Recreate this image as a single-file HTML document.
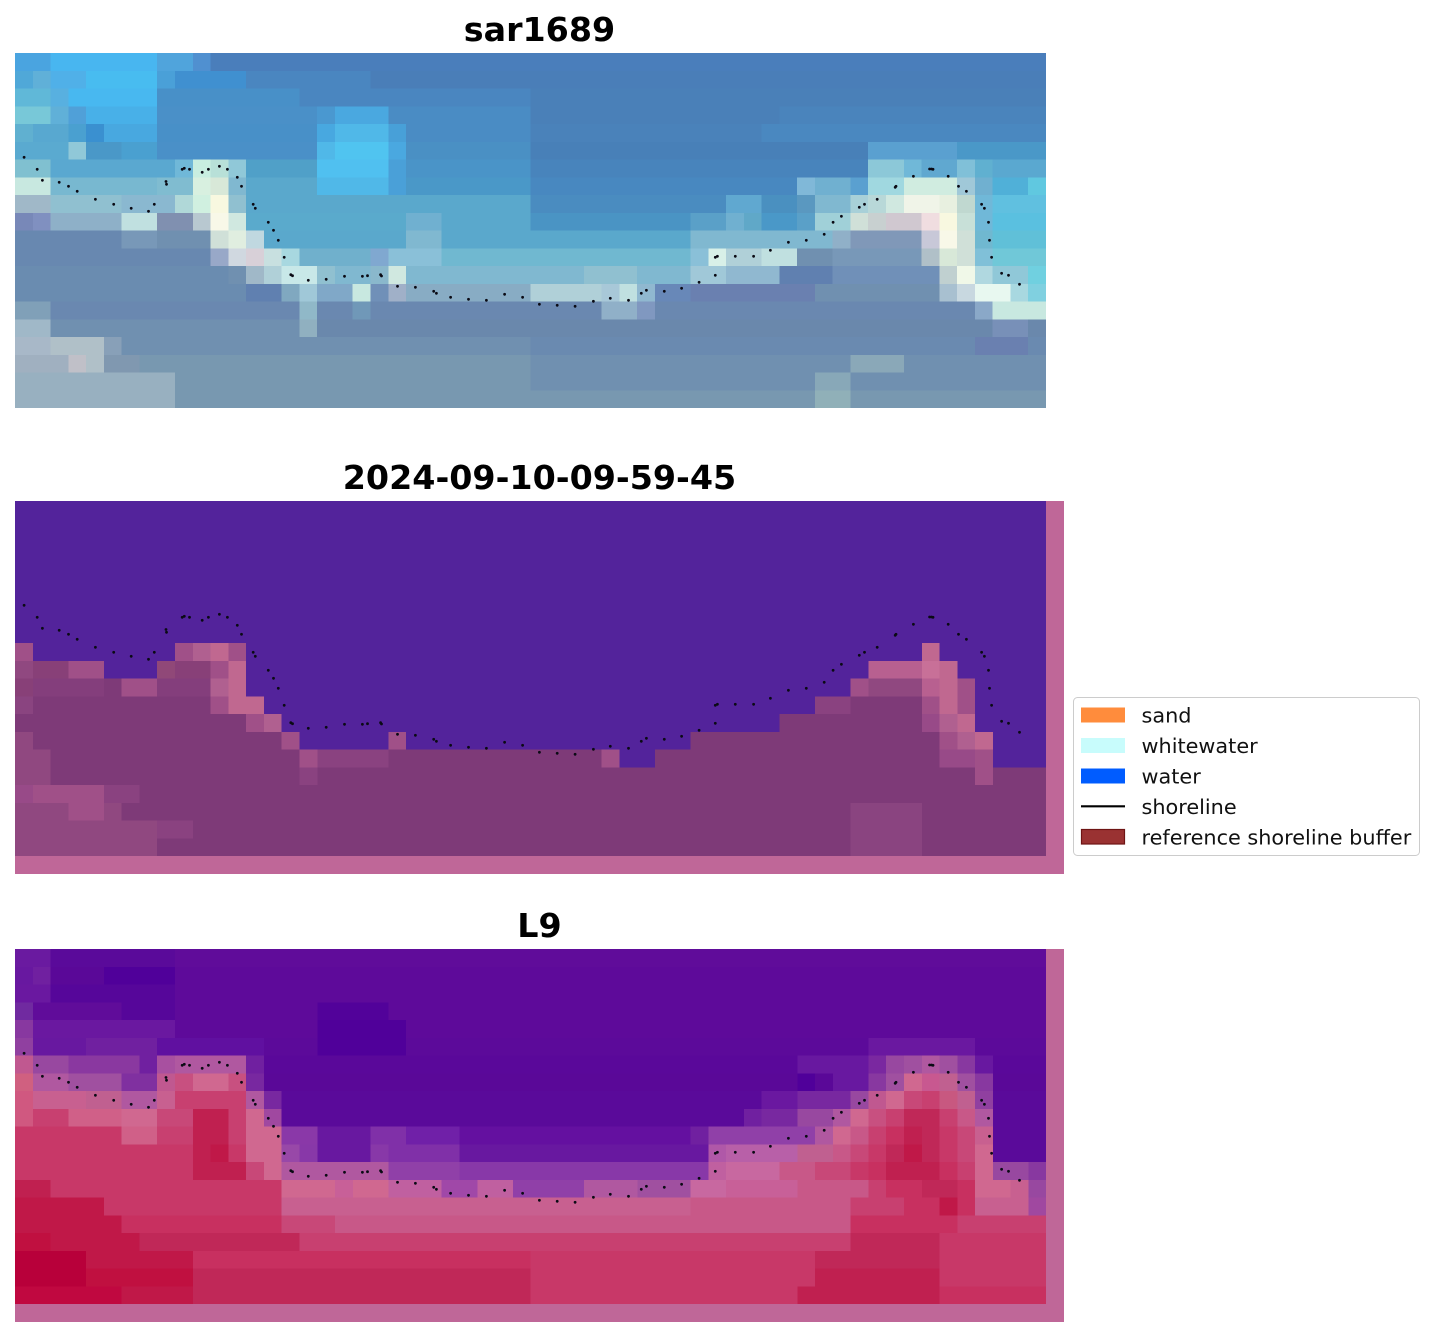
<!DOCTYPE html>
<html>
<head>
<meta charset="utf-8">
<style>
html,body{margin:0;padding:0;background:#fff;}
body{width:1435px;height:1337px;position:relative;overflow:hidden;}
svg.p{position:absolute;}
svg.o{position:absolute;left:0;top:0;}
</style>
</head>
<body>

<!-- Panel 1: sar1689 -->
<svg class="p" style="left:15px;top:53px" width="1031" height="355" viewBox="0 0 58 20" preserveAspectRatio="none" shape-rendering="crispEdges">
<g transform="translate(0,0)">
<rect x="0" y="0" width="58" height="1" fill="#4a7ebb"/><rect x="0" y="0" width="2" height="1" fill="#4aa4e0"/><rect x="2" y="0" width="6" height="1" fill="#48b6f0"/><rect x="8" y="0" width="2" height="1" fill="#50a4dc"/><rect x="10" y="0" width="1" height="1" fill="#5090d0"/>
</g>
<g transform="translate(0,1)">
<rect x="0" y="0" width="58" height="1" fill="#4a7eb8"/><rect x="0" y="0" width="1" height="1" fill="#50a8d8"/><rect x="1" y="0" width="1" height="1" fill="#60b0d8"/><rect x="2" y="0" width="2" height="1" fill="#50b0e8"/><rect x="4" y="0" width="4" height="1" fill="#48bcf0"/><rect x="8" y="0" width="1" height="1" fill="#4aa0d8"/><rect x="9" y="0" width="4" height="1" fill="#4090d0"/><rect x="13" y="0" width="7" height="1" fill="#4a86c0"/>
</g>
<g transform="translate(0,2)">
<rect x="0" y="0" width="58" height="1" fill="#4a80b8"/><rect x="0" y="0" width="2" height="1" fill="#60b8d8"/><rect x="2" y="0" width="1" height="1" fill="#58b0e0"/><rect x="3" y="0" width="5" height="1" fill="#48b8f0"/><rect x="8" y="0" width="8" height="1" fill="#4890c8"/><rect x="16" y="0" width="13" height="1" fill="#4a86c0"/>
</g>
<g transform="translate(0,3)">
<rect x="0" y="0" width="58" height="1" fill="#4a80b8"/><rect x="0" y="0" width="2" height="1" fill="#78c8d8"/><rect x="2" y="0" width="1" height="1" fill="#60b0d8"/><rect x="3" y="0" width="1" height="1" fill="#50a0d8"/><rect x="4" y="0" width="4" height="1" fill="#48b0e8"/><rect x="8" y="0" width="9" height="1" fill="#4a90c8"/><rect x="17" y="0" width="1" height="1" fill="#4a98d0"/><rect x="18" y="0" width="3" height="1" fill="#4aa8e0"/><rect x="21" y="0" width="8" height="1" fill="#4a8cc4"/><rect x="43" y="0" width="15" height="1" fill="#4a84bc"/>
</g>
<g transform="translate(0,4)">
<rect x="0" y="0" width="58" height="1" fill="#4a82ba"/><rect x="0" y="0" width="1" height="1" fill="#60b0d0"/><rect x="1" y="0" width="2" height="1" fill="#58a8d0"/><rect x="3" y="0" width="1" height="1" fill="#4aa0d0"/><rect x="4" y="0" width="1" height="1" fill="#3a90d0"/><rect x="5" y="0" width="3" height="1" fill="#48a8e0"/><rect x="8" y="0" width="9" height="1" fill="#4890c8"/><rect x="17" y="0" width="1" height="1" fill="#48a8e0"/><rect x="18" y="0" width="3" height="1" fill="#50b8e8"/><rect x="21" y="0" width="1" height="1" fill="#48a0d8"/><rect x="22" y="0" width="7" height="1" fill="#4a8cc4"/><rect x="42" y="0" width="16" height="1" fill="#4a88c0"/>
</g>
<g transform="translate(0,5)">
<rect x="0" y="0" width="58" height="1" fill="#4880b8"/><rect x="0" y="0" width="3" height="1" fill="#5aaad0"/><rect x="3" y="0" width="1" height="1" fill="#90c8d8"/><rect x="4" y="0" width="2" height="1" fill="#4a98c8"/><rect x="6" y="0" width="2" height="1" fill="#4aa0d0"/><rect x="8" y="0" width="9" height="1" fill="#4a90c8"/><rect x="17" y="0" width="1" height="1" fill="#50b8e8"/><rect x="18" y="0" width="3" height="1" fill="#50c4f0"/><rect x="21" y="0" width="1" height="1" fill="#4aa8e0"/><rect x="22" y="0" width="7" height="1" fill="#4a90c4"/><rect x="48" y="0" width="5" height="1" fill="#5aa0d0"/><rect x="53" y="0" width="5" height="1" fill="#4a98c8"/>
</g>
<g transform="translate(0,6)">
<rect x="0" y="0" width="58" height="1" fill="#4884bc"/><rect x="0" y="0" width="2" height="1" fill="#80c0d0"/><rect x="2" y="0" width="7" height="1" fill="#5aa8d0"/><rect x="9" y="0" width="1" height="1" fill="#70b8d8"/><rect x="10" y="0" width="1" height="1" fill="#c8eee0"/><rect x="11" y="0" width="1" height="1" fill="#b8e0d8"/><rect x="12" y="0" width="1" height="1" fill="#90c8d8"/><rect x="13" y="0" width="4" height="1" fill="#50a0c8"/><rect x="17" y="0" width="4" height="1" fill="#50c0f0"/><rect x="21" y="0" width="1" height="1" fill="#4aa0d8"/><rect x="22" y="0" width="7" height="1" fill="#4a94c8"/><rect x="48" y="0" width="2" height="1" fill="#8cc8d8"/><rect x="50" y="0" width="1" height="1" fill="#70b8d8"/><rect x="51" y="0" width="2" height="1" fill="#60a8d0"/><rect x="53" y="0" width="1" height="1" fill="#80c0d8"/><rect x="54" y="0" width="1" height="1" fill="#60b0d0"/><rect x="55" y="0" width="3" height="1" fill="#5aa8d0"/>
</g>
<g transform="translate(0,7)">
<rect x="0" y="0" width="58" height="1" fill="#4888c0"/><rect x="0" y="0" width="2" height="1" fill="#c8e8e0"/><rect x="2" y="0" width="6" height="1" fill="#78b8d0"/><rect x="8" y="0" width="2" height="1" fill="#80bcd0"/><rect x="10" y="0" width="1" height="1" fill="#d8f0e0"/><rect x="11" y="0" width="1" height="1" fill="#d8e8d8"/><rect x="12" y="0" width="1" height="1" fill="#80b8d0"/><rect x="13" y="0" width="4" height="1" fill="#5aa8cc"/><rect x="17" y="0" width="4" height="1" fill="#50b8e8"/><rect x="21" y="0" width="1" height="1" fill="#4aa0d8"/><rect x="22" y="0" width="7" height="1" fill="#4a98c8"/><rect x="44" y="0" width="1" height="1" fill="#80b8d8"/><rect x="45" y="0" width="2" height="1" fill="#70b0d0"/><rect x="47" y="0" width="1" height="1" fill="#5aa0d0"/><rect x="48" y="0" width="2" height="1" fill="#a0d8e0"/><rect x="50" y="0" width="3" height="1" fill="#d0ece0"/><rect x="53" y="0" width="1" height="1" fill="#a0c8d8"/><rect x="54" y="0" width="1" height="1" fill="#70b0d0"/><rect x="55" y="0" width="2" height="1" fill="#50b0d8"/><rect x="57" y="0" width="1" height="1" fill="#60c8e0"/>
</g>
<g transform="translate(0,8)">
<rect x="0" y="0" width="58" height="1" fill="#4a8cc0"/><rect x="0" y="0" width="2" height="1" fill="#a0b8c8"/><rect x="2" y="0" width="4" height="1" fill="#90c0d0"/><rect x="6" y="0" width="3" height="1" fill="#8ab8d0"/><rect x="9" y="0" width="1" height="1" fill="#b0d8d8"/><rect x="10" y="0" width="1" height="1" fill="#d0f0e0"/><rect x="11" y="0" width="1" height="1" fill="#f8f8e0"/><rect x="12" y="0" width="1" height="1" fill="#90c0d0"/><rect x="13" y="0" width="16" height="1" fill="#5aa8cc"/><rect x="40" y="0" width="2" height="1" fill="#60a8d0"/><rect x="42" y="0" width="2" height="1" fill="#4a90c0"/><rect x="44" y="0" width="1" height="1" fill="#5a98c0"/><rect x="45" y="0" width="2" height="1" fill="#80b8d0"/><rect x="47" y="0" width="1" height="1" fill="#a8d0d8"/><rect x="48" y="0" width="1" height="1" fill="#b8d8d8"/><rect x="49" y="0" width="1" height="1" fill="#d0e8e0"/><rect x="50" y="0" width="2" height="1" fill="#f0f4e8"/><rect x="52" y="0" width="1" height="1" fill="#e8f0e0"/><rect x="53" y="0" width="1" height="1" fill="#c0d8d0"/><rect x="54" y="0" width="1" height="1" fill="#70b8d8"/><rect x="55" y="0" width="3" height="1" fill="#60c0e0"/>
</g>
<g transform="translate(0,9)">
<rect x="0" y="0" width="58" height="1" fill="#4a94c4"/><rect x="0" y="0" width="1" height="1" fill="#7888b8"/><rect x="1" y="0" width="1" height="1" fill="#8090c0"/><rect x="2" y="0" width="4" height="1" fill="#8eb0c8"/><rect x="6" y="0" width="2" height="1" fill="#c0e0e0"/><rect x="8" y="0" width="2" height="1" fill="#8090b0"/><rect x="10" y="0" width="1" height="1" fill="#b8c8d0"/><rect x="11" y="0" width="1" height="1" fill="#f8f8e8"/><rect x="12" y="0" width="1" height="1" fill="#d0e8e0"/><rect x="13" y="0" width="9" height="1" fill="#5aaacc"/><rect x="22" y="0" width="2" height="1" fill="#70b0d0"/><rect x="24" y="0" width="5" height="1" fill="#5aa8cc"/><rect x="38" y="0" width="2" height="1" fill="#5aa0c8"/><rect x="40" y="0" width="1" height="1" fill="#70b0d0"/><rect x="41" y="0" width="1" height="1" fill="#60a8c8"/><rect x="42" y="0" width="2" height="1" fill="#4a98c8"/><rect x="44" y="0" width="1" height="1" fill="#5aa0c8"/><rect x="45" y="0" width="2" height="1" fill="#a0d0d8"/><rect x="47" y="0" width="1" height="1" fill="#d0e0d8"/><rect x="48" y="0" width="1" height="1" fill="#c8d0d0"/><rect x="49" y="0" width="2" height="1" fill="#d0c8d0"/><rect x="51" y="0" width="1" height="1" fill="#f0dde0"/><rect x="52" y="0" width="1" height="1" fill="#f8f8e0"/><rect x="53" y="0" width="1" height="1" fill="#c8e0d8"/><rect x="54" y="0" width="1" height="1" fill="#70b8d8"/><rect x="55" y="0" width="3" height="1" fill="#5ac0e0"/>
</g>
<g transform="translate(0,10)">
<rect x="0" y="0" width="58" height="1" fill="#5aa8cc"/><rect x="0" y="0" width="6" height="1" fill="#6888b0"/><rect x="6" y="0" width="2" height="1" fill="#7898b8"/><rect x="8" y="0" width="3" height="1" fill="#7090b0"/><rect x="11" y="0" width="1" height="1" fill="#d0e0d8"/><rect x="12" y="0" width="1" height="1" fill="#e0eee0"/><rect x="13" y="0" width="1" height="1" fill="#c0d8e0"/><rect x="22" y="0" width="2" height="1" fill="#80b8d0"/><rect x="38" y="0" width="8" height="1" fill="#80b8d0"/><rect x="46" y="0" width="1" height="1" fill="#90b0c8"/><rect x="47" y="0" width="4" height="1" fill="#8098b8"/><rect x="51" y="0" width="1" height="1" fill="#c8c8d8"/><rect x="52" y="0" width="1" height="1" fill="#f8f8e8"/><rect x="53" y="0" width="1" height="1" fill="#d0e0d8"/><rect x="54" y="0" width="1" height="1" fill="#70b8d0"/><rect x="55" y="0" width="3" height="1" fill="#60c0d8"/>
</g>
<g transform="translate(0,11)">
<rect x="0" y="0" width="58" height="1" fill="#70b8d0"/><rect x="0" y="0" width="11" height="1" fill="#6888b0"/><rect x="11" y="0" width="1" height="1" fill="#98a8c8"/><rect x="12" y="0" width="1" height="1" fill="#d0d8e0"/><rect x="13" y="0" width="1" height="1" fill="#d8d0d8"/><rect x="14" y="0" width="1" height="1" fill="#c8e0e0"/><rect x="15" y="0" width="1" height="1" fill="#a8d8e0"/><rect x="16" y="0" width="4" height="1" fill="#70b0cc"/><rect x="20" y="0" width="1" height="1" fill="#80a8d0"/><rect x="21" y="0" width="3" height="1" fill="#8ac0d8"/><rect x="38" y="0" width="1" height="1" fill="#8ac0d8"/><rect x="39" y="0" width="1" height="1" fill="#d8f0e8"/><rect x="40" y="0" width="2" height="1" fill="#b0d0d8"/><rect x="42" y="0" width="2" height="1" fill="#c0e0e0"/><rect x="44" y="0" width="2" height="1" fill="#7090b0"/><rect x="46" y="0" width="5" height="1" fill="#7898b8"/><rect x="51" y="0" width="1" height="1" fill="#b0c0c8"/><rect x="52" y="0" width="1" height="1" fill="#d8e8d8"/><rect x="53" y="0" width="1" height="1" fill="#d0e0d8"/><rect x="54" y="0" width="1" height="1" fill="#80c0d8"/><rect x="55" y="0" width="3" height="1" fill="#70c8d8"/>
</g>
<g transform="translate(0,12)">
<rect x="0" y="0" width="58" height="1" fill="#80b8d0"/><rect x="0" y="0" width="12" height="1" fill="#6a8cb0"/><rect x="12" y="0" width="1" height="1" fill="#7090b0"/><rect x="13" y="0" width="1" height="1" fill="#a0b8c8"/><rect x="14" y="0" width="1" height="1" fill="#b0d0d8"/><rect x="15" y="0" width="2" height="1" fill="#c8e8e8"/><rect x="17" y="0" width="1" height="1" fill="#90c0d0"/><rect x="20" y="0" width="1" height="1" fill="#8ab8cc"/><rect x="21" y="0" width="1" height="1" fill="#d0e8e0"/><rect x="32" y="0" width="3" height="1" fill="#90c0d0"/><rect x="38" y="0" width="2" height="1" fill="#a0c8d8"/><rect x="40" y="0" width="3" height="1" fill="#90b8d0"/><rect x="43" y="0" width="3" height="1" fill="#6080b0"/><rect x="46" y="0" width="6" height="1" fill="#7090b8"/><rect x="52" y="0" width="1" height="1" fill="#c0d0d0"/><rect x="53" y="0" width="1" height="1" fill="#f0f8e8"/><rect x="54" y="0" width="1" height="1" fill="#b0d8e0"/><rect x="55" y="0" width="2" height="1" fill="#90c8d8"/><rect x="57" y="0" width="1" height="1" fill="#70d0e0"/>
</g>
<g transform="translate(0,13)">
<rect x="0" y="0" width="58" height="1" fill="#7090b0"/><rect x="0" y="0" width="13" height="1" fill="#6a8cb0"/><rect x="13" y="0" width="2" height="1" fill="#6080b0"/><rect x="15" y="0" width="1" height="1" fill="#80a8c0"/><rect x="16" y="0" width="1" height="1" fill="#a0c8d8"/><rect x="17" y="0" width="2" height="1" fill="#80a8c8"/><rect x="19" y="0" width="1" height="1" fill="#c8e8e0"/><rect x="20" y="0" width="1" height="1" fill="#7090b8"/><rect x="21" y="0" width="1" height="1" fill="#a0b0c8"/><rect x="22" y="0" width="7" height="1" fill="#88acc4"/><rect x="29" y="0" width="4" height="1" fill="#b0d0d8"/><rect x="33" y="0" width="1" height="1" fill="#a8c8d8"/><rect x="34" y="0" width="1" height="1" fill="#c0e0e0"/><rect x="35" y="0" width="1" height="1" fill="#90b8d0"/><rect x="36" y="0" width="2" height="1" fill="#6888b8"/><rect x="38" y="0" width="7" height="1" fill="#6a80b0"/><rect x="52" y="0" width="1" height="1" fill="#a8c0d0"/><rect x="53" y="0" width="1" height="1" fill="#c8d8e0"/><rect x="54" y="0" width="2" height="1" fill="#e8f8f0"/><rect x="56" y="0" width="1" height="1" fill="#a8d8e0"/><rect x="57" y="0" width="1" height="1" fill="#80d0e0"/>
</g>
<g transform="translate(0,14)">
<rect x="0" y="0" width="58" height="1" fill="#6a88b0"/><rect x="0" y="0" width="2" height="1" fill="#80a0b8"/><rect x="16" y="0" width="1" height="1" fill="#90b8c8"/><rect x="19" y="0" width="1" height="1" fill="#7098b8"/><rect x="33" y="0" width="2" height="1" fill="#90b0c8"/><rect x="35" y="0" width="1" height="1" fill="#8098c0"/><rect x="54" y="0" width="1" height="1" fill="#8aa8c8"/><rect x="55" y="0" width="3" height="1" fill="#c8e8e0"/>
</g>
<g transform="translate(0,15)">
<rect x="0" y="0" width="58" height="1" fill="#6a88ac"/><rect x="0" y="0" width="2" height="1" fill="#a0b8c8"/><rect x="2" y="0" width="14" height="1" fill="#7090b0"/><rect x="16" y="0" width="1" height="1" fill="#90b0c0"/><rect x="55" y="0" width="2" height="1" fill="#7890b8"/>
</g>
<g transform="translate(0,16)">
<rect x="0" y="0" width="58" height="1" fill="#7090b0"/><rect x="0" y="0" width="2" height="1" fill="#a8b8c8"/><rect x="2" y="0" width="3" height="1" fill="#b0c0c8"/><rect x="5" y="0" width="1" height="1" fill="#88a0b8"/><rect x="29" y="0" width="29" height="1" fill="#6a8ab0"/><rect x="54" y="0" width="3" height="1" fill="#6a80b0"/>
</g>
<g transform="translate(0,17)">
<rect x="0" y="0" width="58" height="1" fill="#7898b0"/><rect x="0" y="0" width="3" height="1" fill="#a0b0c0"/><rect x="3" y="0" width="1" height="1" fill="#c0c0c8"/><rect x="4" y="0" width="1" height="1" fill="#b0c0c8"/><rect x="5" y="0" width="2" height="1" fill="#8098b0"/><rect x="29" y="0" width="29" height="1" fill="#7090b0"/><rect x="47" y="0" width="3" height="1" fill="#8aa8b8"/>
</g>
<g transform="translate(0,18)">
<rect x="0" y="0" width="58" height="1" fill="#7898b0"/><rect x="0" y="0" width="9" height="1" fill="#98b0c0"/><rect x="29" y="0" width="29" height="1" fill="#7090b0"/><rect x="45" y="0" width="2" height="1" fill="#88a8b8"/>
</g>
<g transform="translate(0,19)">
<rect x="0" y="0" width="58" height="1" fill="#7898b0"/><rect x="0" y="0" width="9" height="1" fill="#98b0c0"/><rect x="45" y="0" width="2" height="1" fill="#90b0b8"/>
</g>
</svg>

<!-- Panel 2: classification overlay -->
<svg class="p" style="left:15px;top:501px" width="1049" height="373" viewBox="0 0 59 21" preserveAspectRatio="none" shape-rendering="crispEdges">
<rect x="0" y="0" width="58" height="20" fill="#53239b"/>
<g fill="#7e3a78">
<rect x="0" y="8" width="1" height="12"/><rect x="1" y="9" width="4" height="11"/><rect x="5" y="10" width="3" height="10"/><rect x="8" y="9" width="1" height="11"/><rect x="9" y="8" width="4" height="12"/><rect x="13" y="11" width="1" height="9"/><rect x="14" y="12" width="1" height="8"/><rect x="15" y="13" width="1" height="7"/><rect x="16" y="14" width="5" height="6"/><rect x="21" y="13" width="1" height="7"/><rect x="22" y="14" width="12" height="6"/><rect x="34" y="15" width="2" height="5"/><rect x="36" y="14" width="2" height="6"/><rect x="38" y="13" width="5" height="7"/><rect x="43" y="12" width="2" height="8"/><rect x="45" y="11" width="2" height="9"/><rect x="47" y="10" width="1" height="10"/><rect x="48" y="9" width="3" height="11"/><rect x="51" y="8" width="1" height="12"/><rect x="52" y="9" width="1" height="11"/><rect x="53" y="10" width="1" height="10"/><rect x="54" y="13" width="1" height="7"/><rect x="55" y="15" width="3" height="5"/>
</g>
<rect x="0" y="8" width="1" height="1" fill="#a05088"/><rect x="9" y="8" width="1" height="1" fill="#a05088"/><rect x="10" y="8" width="1" height="1" fill="#b06090"/><rect x="11" y="8" width="1" height="1" fill="#c06890"/><rect x="12" y="8" width="1" height="1" fill="#a05088"/><rect x="51" y="8" width="1" height="1" fill="#c06890"/>
<rect x="0" y="9" width="1" height="1" fill="#904880"/><rect x="1" y="9" width="2" height="1" fill="#884078"/><rect x="3" y="9" width="2" height="1" fill="#a05088"/><rect x="8" y="9" width="1" height="1" fill="#904878"/><rect x="9" y="9" width="2" height="1" fill="#884078"/><rect x="11" y="9" width="1" height="1" fill="#a05088"/><rect x="12" y="9" width="1" height="1" fill="#c06890"/><rect x="48" y="9" width="3" height="1" fill="#b86090"/><rect x="51" y="9" width="1" height="1" fill="#c87098"/><rect x="52" y="9" width="1" height="1" fill="#c06890"/>
<rect x="0" y="10" width="1" height="1" fill="#884078"/><rect x="1" y="10" width="4" height="1" fill="#843e7c"/><rect x="6" y="10" width="2" height="1" fill="#a05088"/><rect x="8" y="10" width="3" height="1" fill="#843e7c"/><rect x="11" y="10" width="1" height="1" fill="#b06090"/><rect x="12" y="10" width="1" height="1" fill="#c06890"/><rect x="47" y="10" width="1" height="1" fill="#a05088"/><rect x="48" y="10" width="3" height="1" fill="#904880"/><rect x="51" y="10" width="1" height="1" fill="#b86090"/><rect x="52" y="10" width="1" height="1" fill="#c06890"/><rect x="53" y="10" width="1" height="1" fill="#a05088"/>
<rect x="0" y="11" width="1" height="1" fill="#8a4480"/><rect x="11" y="11" width="1" height="1" fill="#a05088"/><rect x="12" y="11" width="2" height="1" fill="#c06890"/><rect x="45" y="11" width="2" height="1" fill="#8a4280"/><rect x="51" y="11" width="1" height="1" fill="#a05088"/><rect x="52" y="11" width="1" height="1" fill="#c06890"/><rect x="53" y="11" width="1" height="1" fill="#a05088"/>
<rect x="13" y="12" width="1" height="1" fill="#a05088"/><rect x="14" y="12" width="1" height="1" fill="#b06090"/><rect x="51" y="12" width="1" height="1" fill="#984a88"/><rect x="52" y="12" width="1" height="1" fill="#b06090"/><rect x="53" y="12" width="1" height="1" fill="#c06890"/>
<rect x="0" y="13" width="1" height="1" fill="#904880"/><rect x="15" y="13" width="1" height="1" fill="#a05088"/><rect x="21" y="13" width="1" height="1" fill="#a05088"/><rect x="52" y="13" width="1" height="1" fill="#a05088"/><rect x="53" y="13" width="1" height="1" fill="#b06090"/><rect x="54" y="13" width="1" height="1" fill="#c06890"/>
<rect x="0" y="14" width="2" height="1" fill="#904880"/><rect x="16" y="14" width="1" height="1" fill="#a05088"/><rect x="17" y="14" width="4" height="1" fill="#8a4280"/><rect x="33" y="14" width="1" height="1" fill="#a05088"/><rect x="52" y="14" width="2" height="1" fill="#984a88"/><rect x="54" y="14" width="1" height="1" fill="#a05088"/>
<rect x="0" y="15" width="2" height="1" fill="#904880"/><rect x="16" y="15" width="1" height="1" fill="#8a4280"/><rect x="54" y="15" width="1" height="1" fill="#a05088"/>
<rect x="0" y="16" width="1" height="1" fill="#984a88"/><rect x="1" y="16" width="4" height="1" fill="#a05088"/><rect x="5" y="16" width="2" height="1" fill="#8a4280"/>
<rect x="0" y="17" width="3" height="1" fill="#904880"/><rect x="3" y="17" width="2" height="1" fill="#a05088"/><rect x="5" y="17" width="1" height="1" fill="#904880"/><rect x="47" y="17" width="4" height="1" fill="#8a4480"/>
<rect x="0" y="18" width="8" height="1" fill="#904880"/><rect x="8" y="18" width="2" height="1" fill="#8a4280"/><rect x="47" y="18" width="4" height="1" fill="#8a4480"/>
<rect x="0" y="19" width="8" height="1" fill="#904880"/><rect x="47" y="19" width="4" height="1" fill="#8a4480"/>
<rect x="58" y="0" width="1" height="21" fill="#bf6798"/>
<rect x="0" y="20" width="59" height="1" fill="#bf6798"/>
</svg>

<!-- Panel 3: L9 -->
<svg class="p" style="left:15px;top:949px" width="1049" height="373" viewBox="0 0 59 21" preserveAspectRatio="none" shape-rendering="crispEdges">
<g transform="translate(0,0)"><rect x="0" y="0" width="58" height="1" fill="#600c9a"/><rect x="0" y="0" width="2" height="1" fill="#6a1aa0"/><rect x="2" y="0" width="7" height="1" fill="#5a0a9a"/></g>
<g transform="translate(0,1)"><rect x="0" y="0" width="58" height="1" fill="#5e0a9a"/><rect x="0" y="0" width="1" height="1" fill="#6818a0"/><rect x="1" y="0" width="1" height="1" fill="#7020a0"/><rect x="2" y="0" width="3" height="1" fill="#5a0898"/><rect x="5" y="0" width="4" height="1" fill="#50009a"/></g>
<g transform="translate(0,2)"><rect x="0" y="0" width="58" height="1" fill="#5e0a9a"/><rect x="0" y="0" width="2" height="1" fill="#6a18a0"/><rect x="2" y="0" width="7" height="1" fill="#56069a"/></g>
<g transform="translate(0,3)"><rect x="0" y="0" width="58" height="1" fill="#5e0a9a"/><rect x="0" y="0" width="1" height="1" fill="#702aa0"/><rect x="1" y="0" width="5" height="1" fill="#600c9a"/><rect x="6" y="0" width="3" height="1" fill="#56069a"/><rect x="17" y="0" width="4" height="1" fill="#52029a"/></g>
<g transform="translate(0,4)"><rect x="0" y="0" width="58" height="1" fill="#5e0a9a"/><rect x="0" y="0" width="1" height="1" fill="#8838a0"/><rect x="1" y="0" width="8" height="1" fill="#6a18a0"/><rect x="17" y="0" width="5" height="1" fill="#50009a"/></g>
<g transform="translate(0,5)"><rect x="0" y="0" width="58" height="1" fill="#5c0a9a"/><rect x="0" y="0" width="1" height="1" fill="#9040a0"/><rect x="1" y="0" width="3" height="1" fill="#6818a0"/><rect x="4" y="0" width="4" height="1" fill="#7020a0"/><rect x="8" y="0" width="6" height="1" fill="#6010a0"/><rect x="17" y="0" width="5" height="1" fill="#50009a"/><rect x="48" y="0" width="6" height="1" fill="#6a18a0"/></g>
<g transform="translate(0,6)"><rect x="0" y="0" width="58" height="1" fill="#5a089a"/><rect x="0" y="0" width="1" height="1" fill="#c05890"/><rect x="1" y="0" width="2" height="1" fill="#9848a0"/><rect x="3" y="0" width="4" height="1" fill="#8a38a0"/><rect x="7" y="0" width="1" height="1" fill="#7020a0"/><rect x="8" y="0" width="1" height="1" fill="#a850a0"/><rect x="9" y="0" width="4" height="1" fill="#b058a0"/><rect x="13" y="0" width="1" height="1" fill="#7020a0"/><rect x="44" y="0" width="4" height="1" fill="#6818a0"/><rect x="48" y="0" width="1" height="1" fill="#7a28a0"/><rect x="49" y="0" width="1" height="1" fill="#9848a0"/><rect x="50" y="0" width="1" height="1" fill="#a050a0"/><rect x="51" y="0" width="1" height="1" fill="#b058a0"/><rect x="52" y="0" width="1" height="1" fill="#a050a0"/><rect x="53" y="0" width="1" height="1" fill="#8838a0"/><rect x="54" y="0" width="1" height="1" fill="#6818a0"/></g>
<g transform="translate(0,7)"><rect x="0" y="0" width="58" height="1" fill="#5a0898"/><rect x="0" y="0" width="1" height="1" fill="#d06080"/><rect x="1" y="0" width="2" height="1" fill="#b058a0"/><rect x="3" y="0" width="3" height="1" fill="#a050a0"/><rect x="6" y="0" width="2" height="1" fill="#8030a0"/><rect x="8" y="0" width="1" height="1" fill="#c05890"/><rect x="9" y="0" width="1" height="1" fill="#c85080"/><rect x="10" y="0" width="2" height="1" fill="#d06890"/><rect x="12" y="0" width="1" height="1" fill="#c85080"/><rect x="13" y="0" width="1" height="1" fill="#7828a0"/><rect x="44" y="0" width="1" height="1" fill="#50009a"/><rect x="46" y="0" width="2" height="1" fill="#6818a0"/><rect x="48" y="0" width="1" height="1" fill="#8838a0"/><rect x="49" y="0" width="1" height="1" fill="#a050a0"/><rect x="50" y="0" width="1" height="1" fill="#d06890"/><rect x="51" y="0" width="1" height="1" fill="#c85890"/><rect x="52" y="0" width="1" height="1" fill="#c06090"/><rect x="53" y="0" width="1" height="1" fill="#a050a0"/><rect x="54" y="0" width="1" height="1" fill="#8838a0"/></g>
<g transform="translate(0,8)"><rect x="0" y="0" width="58" height="1" fill="#5a0a9a"/><rect x="0" y="0" width="1" height="1" fill="#d05880"/><rect x="1" y="0" width="3" height="1" fill="#c86090"/><rect x="4" y="0" width="2" height="1" fill="#c06090"/><rect x="6" y="0" width="2" height="1" fill="#b058a0"/><rect x="8" y="0" width="1" height="1" fill="#c86090"/><rect x="9" y="0" width="4" height="1" fill="#c84070"/><rect x="13" y="0" width="1" height="1" fill="#b058a0"/><rect x="14" y="0" width="1" height="1" fill="#7828a0"/><rect x="42" y="0" width="2" height="1" fill="#6a18a0"/><rect x="44" y="0" width="3" height="1" fill="#7828a0"/><rect x="47" y="0" width="1" height="1" fill="#9848a0"/><rect x="48" y="0" width="1" height="1" fill="#c05890"/><rect x="49" y="0" width="1" height="1" fill="#d06890"/><rect x="50" y="0" width="1" height="1" fill="#c84878"/><rect x="51" y="0" width="1" height="1" fill="#c84070"/><rect x="52" y="0" width="1" height="1" fill="#c85880"/><rect x="53" y="0" width="1" height="1" fill="#c06090"/><rect x="54" y="0" width="1" height="1" fill="#9040a0"/></g>
<g transform="translate(0,9)"><rect x="0" y="0" width="58" height="1" fill="#5a0a9a"/><rect x="0" y="0" width="1" height="1" fill="#d05880"/><rect x="1" y="0" width="2" height="1" fill="#c84070"/><rect x="3" y="0" width="3" height="1" fill="#d06088"/><rect x="6" y="0" width="2" height="1" fill="#d06890"/><rect x="8" y="0" width="2" height="1" fill="#c84878"/><rect x="10" y="0" width="2" height="1" fill="#c02050"/><rect x="12" y="0" width="1" height="1" fill="#c84070"/><rect x="13" y="0" width="1" height="1" fill="#d06890"/><rect x="14" y="0" width="1" height="1" fill="#a048a0"/><rect x="41" y="0" width="1" height="1" fill="#7020a0"/><rect x="42" y="0" width="2" height="1" fill="#7828a0"/><rect x="44" y="0" width="2" height="1" fill="#9848a0"/><rect x="46" y="0" width="1" height="1" fill="#b058a0"/><rect x="47" y="0" width="1" height="1" fill="#d06890"/><rect x="48" y="0" width="1" height="1" fill="#c85080"/><rect x="49" y="0" width="1" height="1" fill="#c84070"/><rect x="50" y="0" width="2" height="1" fill="#c02858"/><rect x="52" y="0" width="1" height="1" fill="#c84070"/><rect x="53" y="0" width="1" height="1" fill="#c85888"/><rect x="54" y="0" width="1" height="1" fill="#b058a0"/></g>
<g transform="translate(0,10)"><rect x="0" y="0" width="58" height="1" fill="#5a0a9a"/><rect x="0" y="0" width="6" height="1" fill="#c83868"/><rect x="6" y="0" width="2" height="1" fill="#d06088"/><rect x="8" y="0" width="2" height="1" fill="#c84070"/><rect x="10" y="0" width="2" height="1" fill="#c02050"/><rect x="12" y="0" width="1" height="1" fill="#c84070"/><rect x="13" y="0" width="2" height="1" fill="#d06890"/><rect x="15" y="0" width="2" height="1" fill="#8a38a8"/><rect x="17" y="0" width="3" height="1" fill="#6818a0"/><rect x="20" y="0" width="2" height="1" fill="#8030a8"/><rect x="22" y="0" width="3" height="1" fill="#7020a8"/><rect x="25" y="0" width="13" height="1" fill="#6410a0"/><rect x="38" y="0" width="1" height="1" fill="#7020a0"/><rect x="39" y="0" width="6" height="1" fill="#9040a8"/><rect x="45" y="0" width="1" height="1" fill="#b058a0"/><rect x="46" y="0" width="1" height="1" fill="#d06890"/><rect x="47" y="0" width="1" height="1" fill="#c85888"/><rect x="48" y="0" width="1" height="1" fill="#c84070"/><rect x="49" y="0" width="1" height="1" fill="#c83060"/><rect x="50" y="0" width="1" height="1" fill="#c02050"/><rect x="51" y="0" width="1" height="1" fill="#c02858"/><rect x="52" y="0" width="1" height="1" fill="#c83868"/><rect x="53" y="0" width="1" height="1" fill="#c84878"/><rect x="54" y="0" width="1" height="1" fill="#c86090"/></g>
<g transform="translate(0,11)"><rect x="0" y="0" width="58" height="1" fill="#5a0a9a"/><rect x="0" y="0" width="10" height="1" fill="#c83868"/><rect x="10" y="0" width="1" height="1" fill="#c02050"/><rect x="11" y="0" width="1" height="1" fill="#c01848"/><rect x="12" y="0" width="1" height="1" fill="#c83868"/><rect x="13" y="0" width="2" height="1" fill="#d06890"/><rect x="15" y="0" width="1" height="1" fill="#9848a8"/><rect x="16" y="0" width="1" height="1" fill="#8838a8"/><rect x="17" y="0" width="3" height="1" fill="#6818a0"/><rect x="20" y="0" width="1" height="1" fill="#8838a8"/><rect x="21" y="0" width="4" height="1" fill="#8030a8"/><rect x="25" y="0" width="14" height="1" fill="#6818a0"/><rect x="39" y="0" width="1" height="1" fill="#b058a8"/><rect x="40" y="0" width="4" height="1" fill="#b860a8"/><rect x="44" y="0" width="2" height="1" fill="#c06090"/><rect x="46" y="0" width="1" height="1" fill="#c85888"/><rect x="47" y="0" width="1" height="1" fill="#c84878"/><rect x="48" y="0" width="1" height="1" fill="#c83868"/><rect x="49" y="0" width="1" height="1" fill="#c02858"/><rect x="50" y="0" width="1" height="1" fill="#c01848"/><rect x="51" y="0" width="1" height="1" fill="#c02858"/><rect x="52" y="0" width="1" height="1" fill="#c83868"/><rect x="53" y="0" width="1" height="1" fill="#c84878"/><rect x="54" y="0" width="1" height="1" fill="#d06890"/></g>
<g transform="translate(0,12)"><rect x="0" y="0" width="58" height="1" fill="#9040a8"/><rect x="0" y="0" width="10" height="1" fill="#c83868"/><rect x="10" y="0" width="3" height="1" fill="#c02050"/><rect x="13" y="0" width="1" height="1" fill="#c84878"/><rect x="14" y="0" width="1" height="1" fill="#d06890"/><rect x="15" y="0" width="6" height="1" fill="#b058a0"/><rect x="21" y="0" width="4" height="1" fill="#9040a8"/><rect x="25" y="0" width="14" height="1" fill="#8838a8"/><rect x="39" y="0" width="1" height="1" fill="#c060a0"/><rect x="40" y="0" width="3" height="1" fill="#c868a0"/><rect x="43" y="0" width="2" height="1" fill="#c85888"/><rect x="45" y="0" width="2" height="1" fill="#c84878"/><rect x="47" y="0" width="1" height="1" fill="#c83868"/><rect x="48" y="0" width="1" height="1" fill="#c83060"/><rect x="49" y="0" width="3" height="1" fill="#c02050"/><rect x="52" y="0" width="1" height="1" fill="#c83060"/><rect x="53" y="0" width="1" height="1" fill="#c84070"/><rect x="54" y="0" width="1" height="1" fill="#d06890"/><rect x="55" y="0" width="2" height="1" fill="#9848a0"/><rect x="57" y="0" width="1" height="1" fill="#8838a0"/></g>
<g transform="translate(0,13)"><rect x="0" y="0" width="58" height="1" fill="#c05890"/><rect x="0" y="0" width="2" height="1" fill="#c02050"/><rect x="2" y="0" width="13" height="1" fill="#c83868"/><rect x="15" y="0" width="3" height="1" fill="#d06890"/><rect x="18" y="0" width="1" height="1" fill="#c86098"/><rect x="19" y="0" width="2" height="1" fill="#d06890"/><rect x="21" y="0" width="3" height="1" fill="#c060a0"/><rect x="24" y="0" width="2" height="1" fill="#a048a8"/><rect x="26" y="0" width="2" height="1" fill="#c060a0"/><rect x="28" y="0" width="4" height="1" fill="#9040a8"/><rect x="32" y="0" width="3" height="1" fill="#b058a0"/><rect x="35" y="0" width="3" height="1" fill="#a050a0"/><rect x="38" y="0" width="2" height="1" fill="#c868a0"/><rect x="40" y="0" width="4" height="1" fill="#c86098"/><rect x="44" y="0" width="4" height="1" fill="#c85888"/><rect x="48" y="0" width="1" height="1" fill="#c84070"/><rect x="49" y="0" width="2" height="1" fill="#c83060"/><rect x="51" y="0" width="2" height="1" fill="#c02858"/><rect x="53" y="0" width="1" height="1" fill="#c83060"/><rect x="54" y="0" width="2" height="1" fill="#d06890"/><rect x="56" y="0" width="1" height="1" fill="#c86090"/><rect x="57" y="0" width="1" height="1" fill="#9848a0"/></g>
<g transform="translate(0,14)"><rect x="0" y="0" width="58" height="1" fill="#c86090"/><rect x="0" y="0" width="5" height="1" fill="#c01848"/><rect x="5" y="0" width="10" height="1" fill="#c83868"/><rect x="15" y="0" width="14" height="1" fill="#c86090"/><rect x="29" y="0" width="9" height="1" fill="#c86090"/><rect x="38" y="0" width="9" height="1" fill="#c85888"/><rect x="47" y="0" width="3" height="1" fill="#c84070"/><rect x="50" y="0" width="2" height="1" fill="#c83060"/><rect x="52" y="0" width="1" height="1" fill="#c01848"/><rect x="53" y="0" width="1" height="1" fill="#c83060"/><rect x="54" y="0" width="3" height="1" fill="#c86090"/><rect x="57" y="0" width="1" height="1" fill="#a048a0"/></g>
<g transform="translate(0,15)"><rect x="0" y="0" width="58" height="1" fill="#c85888"/><rect x="0" y="0" width="6" height="1" fill="#c01848"/><rect x="6" y="0" width="9" height="1" fill="#c83060"/><rect x="15" y="0" width="3" height="1" fill="#c84878"/><rect x="47" y="0" width="6" height="1" fill="#c83060"/><rect x="53" y="0" width="5" height="1" fill="#c84070"/></g>
<g transform="translate(0,16)"><rect x="0" y="0" width="58" height="1" fill="#c84070"/><rect x="0" y="0" width="2" height="1" fill="#c01040"/><rect x="2" y="0" width="5" height="1" fill="#c01848"/><rect x="7" y="0" width="9" height="1" fill="#c02858"/><rect x="47" y="0" width="5" height="1" fill="#c02858"/><rect x="52" y="0" width="6" height="1" fill="#c83868"/></g>
<g transform="translate(0,17)"><rect x="0" y="0" width="58" height="1" fill="#c83060"/><rect x="0" y="0" width="4" height="1" fill="#b8003a"/><rect x="4" y="0" width="6" height="1" fill="#c01848"/><rect x="29" y="0" width="29" height="1" fill="#c83868"/><rect x="45" y="0" width="7" height="1" fill="#c02858"/></g>
<g transform="translate(0,18)"><rect x="0" y="0" width="58" height="1" fill="#c02858"/><rect x="0" y="0" width="4" height="1" fill="#b8003a"/><rect x="4" y="0" width="6" height="1" fill="#c01040"/><rect x="29" y="0" width="29" height="1" fill="#c83868"/><rect x="45" y="0" width="7" height="1" fill="#c02050"/></g>
<g transform="translate(0,19)"><rect x="0" y="0" width="58" height="1" fill="#c02858"/><rect x="0" y="0" width="6" height="1" fill="#c00840"/><rect x="6" y="0" width="4" height="1" fill="#c01848"/><rect x="29" y="0" width="15" height="1" fill="#c83868"/><rect x="44" y="0" width="8" height="1" fill="#c02050"/><rect x="52" y="0" width="6" height="1" fill="#c83060"/></g>
<rect x="58" y="0" width="1" height="21" fill="#bf6798"/>
<rect x="0" y="20" width="59" height="1" fill="#bf6798"/>
</svg>

<!-- Overlay: titles, shoreline dots, legend -->
<svg class="o" width="1435" height="1337" viewBox="0 0 1435 1337">
<defs>
<g id="dots" fill="#0a0a14">
<circle cx="24.1" cy="157.3" r="1.4"/><circle cx="37.2" cy="169.3" r="1.4"/><circle cx="42.4" cy="180.3" r="1.4"/><circle cx="59.2" cy="182.3" r="1.4"/><circle cx="68.5" cy="186.3" r="1.4"/><circle cx="77.2" cy="191.3" r="1.4"/><circle cx="95.4" cy="199.3" r="1.4"/><circle cx="113.7" cy="204.3" r="1.4"/><circle cx="131.2" cy="208.3" r="1.4"/><circle cx="148.5" cy="211.3" r="1.4"/><circle cx="154.3" cy="204.3" r="1.4"/><circle cx="166" cy="181.5" r="1.4"/><circle cx="166.5" cy="184.3" r="1.4"/><circle cx="182.2" cy="169.3" r="1.4"/><circle cx="184.3" cy="168.3" r="1.4"/><circle cx="189.5" cy="169.3" r="1.4"/><circle cx="202.2" cy="172.3" r="1.4"/><circle cx="208.4" cy="169.3" r="1.4"/><circle cx="219.4" cy="166.3" r="1.4"/><circle cx="227.4" cy="169.3" r="1.4"/><circle cx="237.3" cy="177.3" r="1.4"/><circle cx="241.5" cy="186.3" r="1.4"/><circle cx="253.2" cy="204.3" r="1.4"/><circle cx="255.3" cy="208.3" r="1.4"/><circle cx="268.3" cy="222.3" r="1.4"/><circle cx="273.5" cy="230.3" r="1.4"/><circle cx="278.3" cy="240.3" r="1.4"/><circle cx="284.2" cy="257.3" r="1.4"/><circle cx="290.8" cy="274.7" r="1.4"/><circle cx="292.5" cy="275.7" r="1.4"/><circle cx="308.3" cy="280.3" r="1.4"/><circle cx="326.2" cy="279.3" r="1.4"/><circle cx="344.5" cy="276.3" r="1.4"/><circle cx="362.4" cy="276.3" r="1.4"/><circle cx="367.5" cy="275.7" r="1.4"/><circle cx="380.6" cy="274.7" r="1.4"/><circle cx="381.5" cy="276" r="1.4"/><circle cx="397.5" cy="286.3" r="1.4"/><circle cx="415.4" cy="287.3" r="1.4"/><circle cx="433.7" cy="291.3" r="1.4"/><circle cx="436.4" cy="293.3" r="1.4"/><circle cx="450.6" cy="297.3" r="1.4"/><circle cx="468.5" cy="299.3" r="1.4"/><circle cx="486.4" cy="300.3" r="1.4"/><circle cx="504.6" cy="294.3" r="1.4"/><circle cx="522.6" cy="297.3" r="1.4"/><circle cx="539.4" cy="304.3" r="1.4"/>
<circle cx="557.2" cy="305.3" r="1.4"/><circle cx="575.1" cy="306.3" r="1.4"/><circle cx="593.4" cy="301.3" r="1.4"/><circle cx="610.3" cy="298.3" r="1.4"/><circle cx="628.5" cy="300.3" r="1.4"/><circle cx="641.3" cy="293.3" r="1.4"/><circle cx="646.4" cy="290.3" r="1.4"/><circle cx="664.3" cy="291.3" r="1.4"/><circle cx="681.6" cy="288.3" r="1.4"/><circle cx="699.1" cy="282.3" r="1.4"/><circle cx="715.3" cy="275.3" r="1.4"/><circle cx="715.3" cy="257.3" r="1.4"/><circle cx="717.4" cy="256.3" r="1.4"/><circle cx="735.3" cy="256.3" r="1.4"/><circle cx="753.6" cy="256.3" r="1.4"/><circle cx="770.4" cy="250.3" r="1.4"/><circle cx="788.4" cy="242.3" r="1.4"/><circle cx="806.3" cy="240.3" r="1.4"/><circle cx="824.2" cy="234.3" r="1.4"/><circle cx="833.1" cy="222.3" r="1.4"/><circle cx="841.4" cy="216.3" r="1.4"/><circle cx="859.3" cy="207.3" r="1.4"/><circle cx="864.5" cy="204.3" r="1.4"/><circle cx="877.2" cy="199.3" r="1.4"/><circle cx="895.2" cy="187.3" r="1.4"/><circle cx="896" cy="186.3" r="1.4"/><circle cx="913.4" cy="176.3" r="1.4"/><circle cx="929.6" cy="169" r="1.4"/><circle cx="931.5" cy="169" r="1.4"/><circle cx="933" cy="169.3" r="1.4"/><circle cx="948.2" cy="176.3" r="1.4"/><circle cx="958.5" cy="186.3" r="1.4"/><circle cx="966.4" cy="191.3" r="1.4"/><circle cx="981.6" cy="204.3" r="1.4"/><circle cx="984.4" cy="208.3" r="1.4"/><circle cx="988.5" cy="222.3" r="1.4"/><circle cx="989.5" cy="240.3" r="1.4"/><circle cx="991.6" cy="257.3" r="1.4"/><circle cx="1001.6" cy="273.3" r="1.4"/><circle cx="1008.5" cy="275.3" r="1.4"/><circle cx="1019.5" cy="284.3" r="1.4"/>
</g>
</defs>
<use href="#dots"/>
<use href="#dots" transform="translate(0,448)"/>
<use href="#dots" transform="translate(0,896)"/>

<g font-family="'DejaVu Sans','Liberation Sans',sans-serif" font-weight="bold" font-size="33.3" fill="#000" text-anchor="middle">
<text x="539.5" y="41">sar1689</text>
<text x="539.5" y="489">2024-09-10-09-59-45</text>
<text x="539.5" y="937">L9</text>
</g>

<rect x="1073.5" y="697.5" width="346" height="158" rx="4" ry="4" fill="#ffffff" fill-opacity="0.9" stroke="#cccccc" stroke-width="1"/>
<rect x="1081" y="707.5" width="44" height="15" fill="#ff8c3c"/>
<rect x="1081" y="738" width="44" height="15" fill="#c8fcfc"/>
<rect x="1081" y="768.5" width="44" height="15" fill="#005cff"/>
<line x1="1081" y1="806.3" x2="1125" y2="806.3" stroke="#000" stroke-width="2.2"/>
<rect x="1081.5" y="829.5" width="43" height="14.5" fill="#9a3232" stroke="#6e1414" stroke-width="1.2"/>
<g font-family="'DejaVu Sans','Liberation Sans',sans-serif" font-size="20.8" fill="#111">
<text x="1141.5" y="722.5">sand</text>
<text x="1141.5" y="753">whitewater</text>
<text x="1141.5" y="783.5">water</text>
<text x="1141.5" y="814">shoreline</text>
<text x="1141.5" y="844.5">reference shoreline buffer</text>
</g>
</svg>

</body>
</html>
